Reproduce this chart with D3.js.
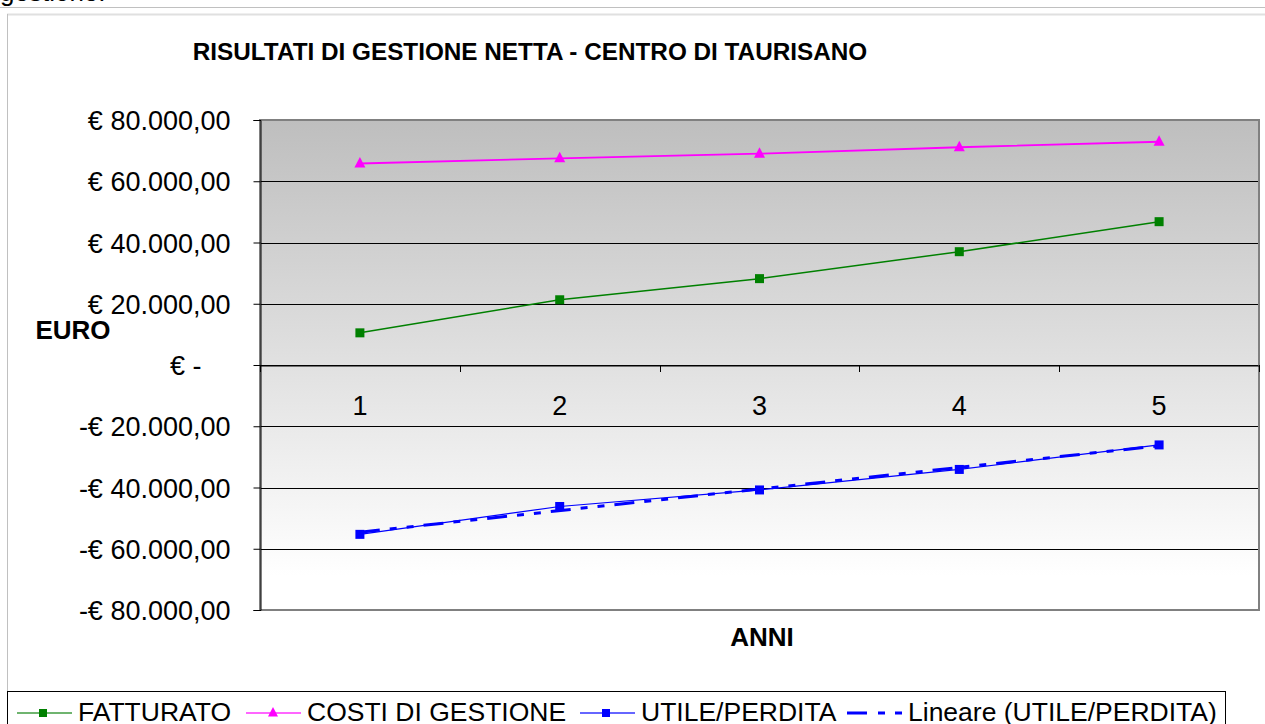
<!DOCTYPE html>
<html>
<head>
<meta charset="utf-8">
<script src="https://cdn.jsdelivr.net/npm/d3@7"></script>
<style>
  body { margin: 0; background: #fff; }
  svg { display: block; font-family: "Liberation Sans", Arial, sans-serif; }
</style>
</head>
<body>
<script>
var anni = [1, 2, 3, 4, 5];
var fatturato = [10500, 21300, 28200, 37000, 46800];
var costi = [65800, 67500, 69000, 71100, 72900];
var utile = [-55300, -46200, -40800, -34100, -26100];
var yTicks = [-80000, -60000, -40000, -20000, 0, 20000, 40000, 60000, 80000];

var width = 1265, height = 724;
var plotLeft = 260, plotRight = 1259, plotTop = 120, plotBottom = 610;

var svg = d3.select("body").append("svg")
  .attr("width", width)
  .attr("height", height);

// page bits above the chart
svg.append("text").attr("x", 0).attr("y", 1)
  .attr("font-size", 26).text("gestione.");
svg.append("line").attr("x1", 0).attr("x2", width).attr("y1", 7.5).attr("y2", 7.5)
  .attr("stroke", "#c0c0c0");
svg.append("line").attr("x1", 7).attr("x2", width).attr("y1", 14.5).attr("y2", 14.5)
  .attr("stroke", "#e0e0e0").attr("stroke-width", 2);
svg.append("line").attr("x1", 7.5).attr("x2", 7.5).attr("y1", 14).attr("y2", height)
  .attr("stroke", "#c0c0c0");

var x = d3.scaleBand().domain(anni).range([plotLeft, plotRight]);
var y = d3.scaleLinear().domain([-80000, 80000]).range([plotBottom, plotTop]);
function cx(d) { return x(d) + x.bandwidth() / 2; }

// plot background gradient
var grad = svg.append("defs").append("linearGradient")
  .attr("id", "bg").attr("x1", 0).attr("y1", 0).attr("x2", 0).attr("y2", 1);
grad.append("stop").attr("offset", 0).attr("stop-color", "#bebebe");
grad.append("stop").attr("offset", 0.93).attr("stop-color", "#ffffff");
grad.append("stop").attr("offset", 1).attr("stop-color", "#ffffff");

svg.append("rect")
  .attr("x", plotLeft).attr("y", plotTop)
  .attr("width", plotRight - plotLeft).attr("height", plotBottom - plotTop)
  .attr("fill", "url(#bg)");

// gridlines
svg.append("g").selectAll("line")
  .data(yTicks.filter(function (d) { return d !== 80000 && d !== -80000; }))
  .enter().append("line")
  .attr("x1", plotLeft).attr("x2", plotRight)
  .attr("y1", function (d) { return Math.round(y(d)) + 0.5; })
  .attr("y2", function (d) { return Math.round(y(d)) + 0.5; })
  .attr("stroke", "#000");

// plot border
svg.append("rect")
  .attr("x", plotLeft).attr("y", plotTop)
  .attr("width", plotRight - plotLeft).attr("height", plotBottom - plotTop)
  .attr("fill", "none").attr("stroke", "#808080").attr("stroke-width", 2);

// y axis
var yAxis = d3.axisLeft(y).tickValues(yTicks).tickSize(7).tickPadding(23)
  .tickFormat(function (d) {
    if (d === 0) return "€ -";
    var s = d3.format(",.2f")(Math.abs(d)).replace(/,/g, "#").replace(".", ",").replace(/#/g, ".");
    return (d < 0 ? "-€ " : "€ ") + s;
  });
var gy = svg.append("g").attr("transform", "translate(" + (plotLeft + 0.5) + ",0)").call(yAxis);
gy.select(".domain").attr("stroke", "#000");
gy.selectAll("line").attr("stroke", "#000");
gy.selectAll("text").attr("font-size", 27).attr("fill", "#000")
  .attr("font-family", "Liberation Sans, Arial, sans-serif")
  .attr("dy", "0.36em");
gy.selectAll(".tick").filter(function (d) { return d === 0; })
  .select("text").attr("x", -59);

// x axis on zero line
var xAxis = d3.axisBottom(x).tickSize(0).tickPadding(30);
var gx = svg.append("g").attr("transform", "translate(0," + (Math.round(y(0)) + 0.5) + ")").call(xAxis);
gx.select(".domain").attr("stroke", "#000");
gx.selectAll("text").attr("font-size", 27).attr("fill", "#000")
  .attr("font-family", "Liberation Sans, Arial, sans-serif");
// category boundary ticks
svg.append("g").selectAll("line")
  .data(anni.concat([6]))
  .enter().append("line")
  .attr("x1", function (d) { return Math.round(d === 6 ? plotRight : x(d)) + 0.5; })
  .attr("x2", function (d) { return Math.round(d === 6 ? plotRight : x(d)) + 0.5; })
  .attr("y1", y(0)).attr("y2", y(0) + 7)
  .attr("stroke", "#000");

// series
var line = d3.line()
  .x(function (d) { return cx(d.a); })
  .y(function (d) { return y(d.v); });
function pts(vals) { return anni.map(function (a, i) { return { a: a, v: vals[i] }; }); }

// trend line for utile (least squares)
var n = anni.length;
var mx = d3.mean(anni), my = d3.mean(utile);
var slope = d3.sum(anni, function (a, i) { return (a - mx) * (utile[i] - my); }) /
  d3.sum(anni, function (a) { return (a - mx) * (a - mx); });
var icpt = my - slope * mx;
var trend = [{ a: anni[0], v: icpt + slope * anni[0] }, { a: anni[n - 1], v: icpt + slope * anni[n - 1] }];

svg.append("path").datum(pts(fatturato)).attr("d", line)
  .attr("fill", "none").attr("stroke", "#008000").attr("stroke-width", 1.5);
svg.append("path").datum(pts(costi)).attr("d", line)
  .attr("fill", "none").attr("stroke", "#ff00ff").attr("stroke-width", 1.8);
svg.append("path").datum(pts(utile)).attr("d", line)
  .attr("fill", "none").attr("stroke", "#0000ff").attr("stroke-width", 1.2);
svg.append("path").datum(trend).attr("d", line)
  .attr("fill", "none").attr("stroke", "#0000ff").attr("stroke-width", 3)
  .attr("stroke-dasharray", "20,10,7,10,7,10");

function squares(vals, color) {
  svg.append("g").selectAll("rect").data(pts(vals)).enter().append("rect")
    .attr("x", function (d) { return cx(d.a) - 4.5; })
    .attr("y", function (d) { return y(d.v) - 4.5; })
    .attr("width", 9).attr("height", 9)
    .attr("fill", color);
}
squares(fatturato, "#008000");
squares(utile, "#0000ff");
svg.append("g").selectAll("path").data(pts(costi)).enter().append("path")
  .attr("d", "M0,-6.5L5.5,4L-5.5,4Z")
  .attr("transform", function (d) { return "translate(" + cx(d.a) + "," + y(d.v) + ")"; })
  .attr("fill", "#ff00ff");

// titles
svg.append("text").attr("x", 530).attr("y", 60).attr("text-anchor", "middle")
  .attr("font-size", 24.3).attr("font-weight", "bold")
  .text("RISULTATI DI GESTIONE NETTA - CENTRO DI TAURISANO");
svg.append("text").attr("x", 73).attr("y", 339).attr("text-anchor", "middle")
  .attr("font-size", 26).attr("font-weight", "bold").text("EURO");
svg.append("text").attr("x", 762).attr("y", 646).attr("text-anchor", "middle")
  .attr("font-size", 26).attr("font-weight", "bold").text("ANNI");

// legend
var legendItems = [
  { name: "FATTURATO", color: "#008000", lineColor: "#6fb46f", marker: "square", x: 17 },
  { name: "COSTI DI GESTIONE", color: "#ff00ff", lineColor: "#ff66ff", marker: "triangle", x: 246 },
  { name: "UTILE/PERDITA", color: "#0000ff", lineColor: "#6666ff", marker: "square", x: 580 },
  { name: "Lineare (UTILE/PERDITA)", color: "#0000ff", lineColor: "#0000ff", marker: "none", x: 847 }
];
svg.append("rect").attr("x", 7.5).attr("y", 691.5).attr("width", 1218).attr("height", 60)
  .attr("fill", "#fff").attr("stroke", "#000");
var lg = svg.append("g").selectAll("g").data(legendItems).enter().append("g")
  .attr("transform", function (d) { return "translate(" + d.x + ",713)"; });
lg.append("line").attr("x1", 0).attr("x2", 55).attr("y1", 0).attr("y2", 0)
  .attr("stroke", function (d) { return d.lineColor; })
  .attr("stroke-width", function (d) { return d.marker === "none" ? 3 : 2; })
  .attr("stroke-dasharray", function (d) { return d.marker === "none" ? "20,11,7,10,8,10" : null; });
lg.filter(function (d) { return d.marker === "square"; }).append("rect")
  .attr("x", 22).attr("y", -4).attr("width", 8).attr("height", 8)
  .attr("fill", function (d) { return d.color; });
lg.filter(function (d) { return d.marker === "triangle"; }).append("path")
  .attr("d", "M27,-6L32,3.5L22,3.5Z")
  .attr("fill", function (d) { return d.color; });
lg.append("text").attr("x", 61).attr("y", 8)
  .attr("font-size", 26.5).text(function (d) { return d.name; });
</script>
</body>
</html>
